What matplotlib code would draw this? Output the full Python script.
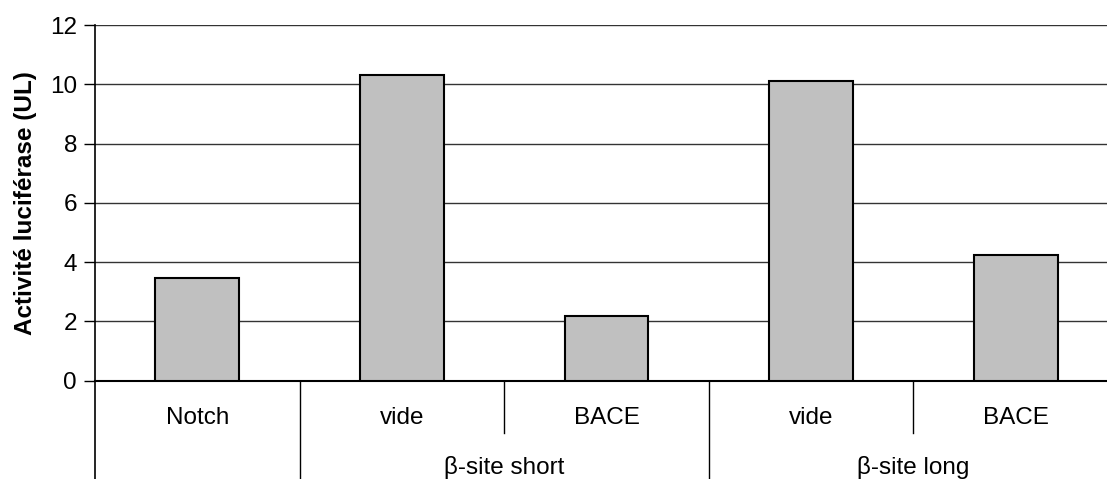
import matplotlib
matplotlib.use("Agg")
import matplotlib.pyplot as plt

categories = ["Notch", "vide", "BACE", "vide", "BACE"]
values = [3.47, 10.32, 2.18, 10.12, 4.24]
groups = ["", "β-site short", "β-site long"]
group_spans = [(0, 0), (1, 2), (3, 4)]
yticks = [0, 2, 4, 6, 8, 10, 12]
ylabel = "Activité luciférase (UL)"

plt.rcParams['font.family'] = ['Liberation Sans', 'DejaVu Sans']
FS = 17.5

fig = plt.figure(figsize=(11.07, 4.79), dpi=100)
ax = fig.add_axes([95/1107, (479-380.7)/479, 1023/1107, 355.7/479])

x = list(range(len(categories)))
ax.bar(x, values, width=0.41, color="#c0c0c0", edgecolor="black", linewidth=1.5, zorder=3)

ax.set_xlim(-0.5, len(categories) - 0.5)
ax.set_ylim(0, 12)
ax.set_yticks(yticks)
ax.set_yticklabels([str(t) for t in yticks], fontsize=FS)
ax.tick_params(axis='y', direction='out', length=8, width=1, pad=5)
ax.set_xticks([])
ax.yaxis.grid(True, color="#333333", linewidth=1)
ax.set_axisbelow(True)
for s in ["top", "right"]:
    ax.spines[s].set_visible(False)
ax.spines["left"].set_linewidth(1.2)
ax.spines["bottom"].set_linewidth(1.5)
ax.set_ylabel(ylabel, fontsize=FS, fontweight="bold", labelpad=9)

trans = ax.get_xaxis_transform()
ax.plot([-0.5, -0.5], [0, -0.35], transform=trans, color="black", lw=1.2, clip_on=False)
for xi, c in zip(x, categories):
    ax.text(xi, -0.105, c, transform=trans, ha="center", va="center", fontsize=FS)
for gi, (a, b) in enumerate(group_spans):
    if b < len(categories) - 1:
        ax.plot([b + 0.5, b + 0.5], [0, -0.35], transform=trans, color="black", lw=1, clip_on=False)
    for k in range(a, b):
        ax.plot([k + 0.5, k + 0.5], [0, -0.147], transform=trans, color="black", lw=1, clip_on=False)
    if groups[gi]:
        ax.text((a + b) / 2, -0.243, groups[gi], transform=trans, ha="center", va="center", fontsize=FS)

fig.savefig("out.png", dpi=100)
